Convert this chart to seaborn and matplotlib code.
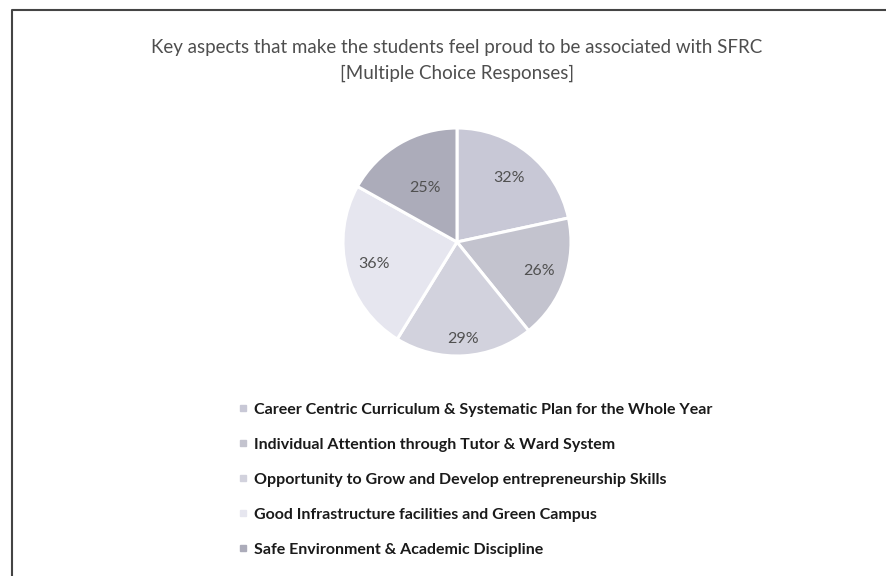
import numpy as np
import matplotlib
matplotlib.use("Agg")
import matplotlib.pyplot as plt
import seaborn as sns
from matplotlib.lines import Line2D

categories = [
    "Career Centric Curriculum & Systematic Plan for the Whole Year",
    "Individual Attention through Tutor & Ward System",
    "Opportunity to Grow and Develop entrepreneurship Skills",
    "Good Infrastructure facilities and Green Campus",
    "Safe Environment & Academic Discipline",
]
values = [32, 26, 29, 36, 25]
labels = ["32%", "26%", "29%", "36%", "25%"]
colors = ["#c8c8d6", "#c3c3ce", "#d2d2dd", "#e6e6ef", "#acacba"]
label_radius = [0.72, 0.76, 0.85, 0.75, 0.55]

sns.set_theme(style="white")
plt.rcParams["font.family"] = ["Lato", "DejaVu Sans"]

fig = plt.figure(figsize=(8.87, 5.76), dpi=100)
fig.patch.set_facecolor("white")

W, H = 887, 576
cx, cy, r = 457, 242, 114
ax = fig.add_axes([(cx - r) / W, 1 - (cy + r) / H, 2 * r / W, 2 * r / H])
wedges, _ = ax.pie(values, colors=colors, startangle=90, counterclock=False,
                   wedgeprops=dict(edgecolor="white", linewidth=2.2))
ax.set_aspect("equal")
ax.set_xlim(-1, 1)
ax.set_ylim(-1, 1)

for w, lab, rf in zip(wedges, labels, label_radius):
    ang = np.deg2rad((w.theta1 + w.theta2) / 2)
    ax.text(rf * np.cos(ang), rf * np.sin(ang), lab, ha="center", va="center",
            fontsize=11.5, color="#505050")

fig.text(cx / W, 1 - 47 / H,
         "Key aspects that make the students feel proud to be associated with SFRC",
         ha="center", va="center", fontsize=13.5, color="#4e4e4e")
fig.text(cx / W, 1 - 73 / H, "[Multiple Choice Responses]",
         ha="center", va="center", fontsize=13.5, color="#4e4e4e")

handles = [Line2D([0], [0], marker="s", linestyle="none", markersize=5,
                  markerfacecolor=c, markeredgecolor=c) for c in colors]
leg = fig.legend(handles, categories, loc="upper left",
                 bbox_to_anchor=(224 / W, 1 - 388 / H), frameon=False,
                 handlelength=0.6, handletextpad=0.4, labelspacing=1.31,
                 prop=dict(size=11.5, weight="bold"))
for t in leg.get_texts():
    t.set_color("#1a1a1a")

fig.add_artist(Line2D([12 / W, 12 / W, 1.0], [0, 1 - 10 / H, 1 - 10 / H],
                      transform=fig.transFigure, color="#444444", linewidth=1.5))

fig.savefig("out.png", dpi=100, facecolor="white")
